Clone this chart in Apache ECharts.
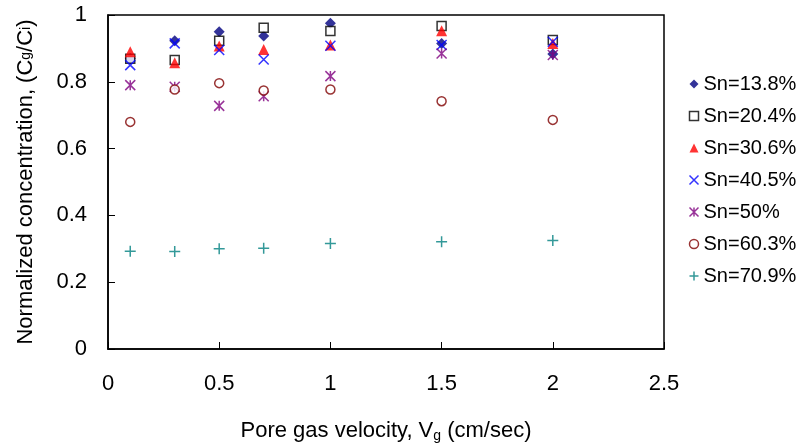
<!DOCTYPE html>
<html>
<head>
<meta charset="utf-8">
<script src="https://cdn.jsdelivr.net/npm/echarts@6/dist/echarts.min.js"></script>
<style>
html,body{margin:0;padding:0;background:#fff;}
#chart{width:801px;height:448px;}
</style>
</head>
<body>
<div id="chart"></div>
<script>
var velocities = [0.1, 0.3, 0.5, 0.7, 1.0, 1.5, 2.0];
var seriesNames = ['Sn=13.8%', 'Sn=20.4%', 'Sn=30.6%', 'Sn=40.5%', 'Sn=50%', 'Sn=60.3%', 'Sn=70.9%'];
var sn138 = [0.87, 0.923, 0.95, 0.937, 0.975, 0.915, 0.883];
var sn204 = [0.869, 0.865, 0.923, 0.962, 0.952, 0.967, 0.925];
var sn306 = [0.89, 0.857, 0.907, 0.897, 0.91, 0.953, 0.915];
var sn405 = [0.85, 0.915, 0.895, 0.867, 0.908, 0.91, 0.92];
var sn50 = [0.79, 0.785, 0.728, 0.757, 0.817, 0.885, 0.88];
var sn603 = [0.68, 0.777, 0.796, 0.774, 0.777, 0.742, 0.686];
var sn709 = [0.293, 0.292, 0.30, 0.302, 0.316, 0.321, 0.325];
var xTicks = [0, 0.5, 1, 1.5, 2, 2.5];
var yTicks = [0, 0.2, 0.4, 0.6, 0.8, 1];

var allValues = [sn138, sn204, sn306, sn405, sn50, sn603, sn709];
var styles = [
  {symbol: 'diamond', size: 11, itemStyle: {color: '#000080'}},
  {symbol: 'rect', size: 9, itemStyle: {color: '#ffffff', borderColor: '#000000', borderWidth: 1.5}},
  {symbol: 'triangle', size: 11, itemStyle: {color: '#FF0000'}},
  {symbol: 'path://M0,0L10,10M0,10L10,0', size: 10, itemStyle: {color: 'none', borderColor: '#0000FF', borderWidth: 1.5}},
  {symbol: 'path://M0,0L10,10M0,10L10,0M5,0L5,10', size: 10, itemStyle: {color: 'none', borderColor: '#800080', borderWidth: 1.5}},
  {symbol: 'circle', size: 9, itemStyle: {color: '#ffffff', borderColor: '#800000', borderWidth: 1.5}},
  {symbol: 'path://M5,0L5,10M0,5L10,5', size: 11, itemStyle: {color: 'none', borderColor: '#008080', borderWidth: 1.5}}
];

function pair(xs, ys) {
  return xs.map(function (x, i) { return [x, ys[i]]; });
}

var series = seriesNames.map(function (name, k) {
  return {
    name: name,
    type: 'scatter',
    symbol: styles[k].symbol,
    symbolSize: styles[k].size,
    itemStyle: styles[k].itemStyle,
    data: pair(velocities, allValues[k]),
    emphasis: {disabled: true},
    z: 2 + k
  };
});

var chart = echarts.init(document.getElementById('chart'), null, {renderer: 'canvas'});
chart.setOption({
  animation: false,
  backgroundColor: '#ffffff',
  grid: {
    left: 108, right: 137, top: 15, bottom: 99,
    show: true, borderColor: '#000000', borderWidth: 1.5, backgroundColor: 'transparent'
  },
  legend: {
    orient: 'vertical',
    left: 687,
    top: 74,
    padding: 0,
    itemWidth: 9,
    itemHeight: 9,
    itemGap: 12,
    textStyle: {fontFamily: 'Liberation Sans, Arial, sans-serif', fontSize: 20, color: '#000'},
    data: seriesNames.map(function (n, k) {
      return {name: n, icon: styles[k].symbol, itemStyle: styles[k].itemStyle};
    })
  },
  xAxis: {
    type: 'value',
    min: xTicks[0], max: xTicks[xTicks.length - 1], interval: 0.5,
    name: 'Pore gas velocity, V{sub|g} (cm/sec)',
    nameLocation: 'middle',
    nameGap: 70,
    nameTextStyle: {
      fontFamily: 'Liberation Sans, Arial, sans-serif', fontSize: 22, color: '#000',
      rich: {sub: {fontSize: 14, verticalAlign: 'bottom', padding: [10, 0, 0, 0], fontFamily: 'Liberation Sans, Arial, sans-serif', color: '#000'}}
    },
    axisLine: {lineStyle: {color: '#000', width: 1.5}},
    axisTick: {inside: true, length: 7, lineStyle: {color: '#000', width: 1}},
    axisLabel: {margin: 24, fontFamily: 'Liberation Sans, Arial, sans-serif', fontSize: 22, color: '#000'},
    splitLine: {show: false}
  },
  yAxis: {
    type: 'value',
    min: yTicks[0], max: yTicks[yTicks.length - 1], interval: 0.2,
    name: 'Normalized concentration, (C{sub|g}/C{sub|i})',
    nameLocation: 'middle',
    nameGap: 71,
    nameTextStyle: {
      fontFamily: 'Liberation Sans, Arial, sans-serif', fontSize: 22, color: '#000',
      rich: {sub: {fontSize: 14, fontFamily: 'Liberation Sans, Arial, sans-serif', color: '#000'}}
    },
    axisLine: {lineStyle: {color: '#000', width: 1.5}},
    axisTick: {inside: true, length: 7, lineStyle: {color: '#000', width: 1}},
    axisLabel: {margin: 21, fontFamily: 'Liberation Sans, Arial, sans-serif', fontSize: 22, color: '#000'},
    splitLine: {show: false}
  },
  series: series
});
</script>
</body>
</html>
